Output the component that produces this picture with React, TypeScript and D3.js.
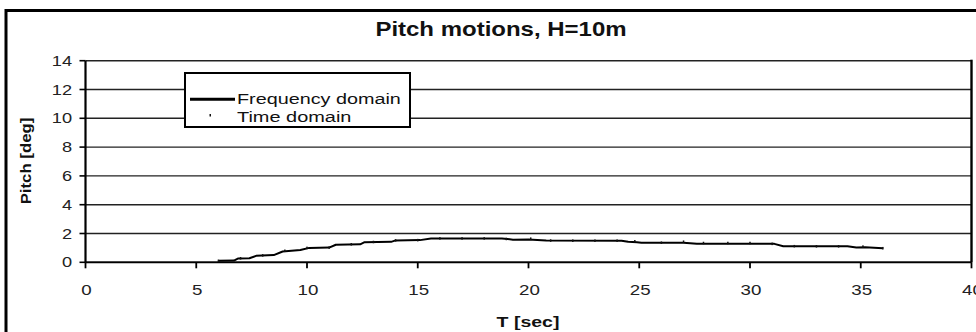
import React from "react";
import * as d3 from "d3";

// Pitch response vs wave period, H = 10 m
const freqT = [6.0, 6.7, 6.9, 7.4, 7.7, 8.5, 8.9, 9.7, 10.1, 11.0, 11.3, 12.4, 12.6, 13.8, 14.0, 15.1, 15.6, 17.0, 18.8, 19.3, 20.0, 20.8, 24.2, 24.5, 24.9, 25.1, 27.0, 27.6, 31.1, 31.5, 34.4, 34.8, 35.2, 36.0];
const freqPitch = [0.1, 0.12, 0.27, 0.28, 0.45, 0.5, 0.75, 0.85, 1.0, 1.02, 1.22, 1.25, 1.4, 1.42, 1.52, 1.54, 1.65, 1.66, 1.66, 1.57, 1.58, 1.52, 1.5, 1.42, 1.4, 1.36, 1.36, 1.28, 1.28, 1.12, 1.11, 1.02, 1.04, 0.97];

const timeT = [6, 7, 8, 9, 10, 11, 12, 13, 14, 15, 16, 17, 18, 19, 20.1, 21, 22, 23, 24, 24.8, 26, 27, 27.9, 29, 30, 31, 32, 33, 34, 35.1, 36];
const timePitch = [0.1, 0.28, 0.48, 0.8, 1.0, 1.02, 1.25, 1.41, 1.52, 1.54, 1.66, 1.66, 1.66, 1.62, 1.64, 1.51, 1.5, 1.5, 1.5, 1.46, 1.36, 1.43, 1.34, 1.34, 1.34, 1.28, 1.12, 1.11, 1.11, 1.09, 0.98];

const xTicks = [0, 5, 10, 15, 20, 25, 30, 35, 40];
const yTicks = [0, 2, 4, 6, 8, 10, 12, 14];

const titleText = "Pitch motions, H=10m";
const xLabel = "T [sec]";
const yLabel = "Pitch [deg]";
const legendLabels = ["Frequency domain", "Time domain"];

const W = 976;
const H = 332;
const font = "'Liberation Sans', Arial, Helvetica, sans-serif";

export default function App() {
  const x = d3.scaleLinear().domain([0, 40]).range([85.5, 971.5]);
  const y = d3.scaleLinear().domain([0, 14]).range([262.3, 60.7]);

  const line = d3
    .line<number>()
    .x((_, i) => x(freqT[i]))
    .y((d) => y(d));

  const leg = { x: 185, y: 73, w: 225, h: 54 };

  return (
    <svg
      width={W}
      height={H}
      style={{ position: "absolute", left: 0, top: 0, background: "#fff" }}
      fontFamily={font}
    >
      <rect x={0} y={0} width={W} height={H} fill="#fff" />
      {/* outer chart frame */}
      <rect x={6} y={10.5} width={W + 20} height={H + 20} fill="none" stroke="#000" strokeWidth={3} />

      <text
        transform={`translate(501,36) scale(1.2,1)`}
        textAnchor="middle"
        fontSize={20}
        fontWeight="bold"
        fill="#111"
      >
        {titleText}
      </text>

      {/* horizontal gridlines */}
      {yTicks.map((t) => (
        <line key={`g${t}`} x1={x(0)} x2={x(40)} y1={y(t)} y2={y(t)} stroke="#222" strokeWidth={1.4} />
      ))}

      {/* axes */}
      <line x1={x(0)} x2={x(0)} y1={y(14)} y2={y(0)} stroke="#000" strokeWidth={2.2} />
      <line x1={x(40)} x2={x(40)} y1={y(14) - 1} y2={y(0)} stroke="#000" strokeWidth={2.4} />
      <line x1={x(0)} x2={x(40)} y1={y(0)} y2={y(0)} stroke="#000" strokeWidth={1.8} />

      {yTicks.map((t) => (
        <g key={`yt${t}`}>
          <line x1={x(0) - 6} x2={x(0)} y1={y(t)} y2={y(t)} stroke="#000" strokeWidth={1.6} />
          <text
            transform={`translate(72,${y(t) + 5}) scale(1.3,1)`}
            textAnchor="end"
            fontSize={14}
            fill="#222"
          >
            {t}
          </text>
        </g>
      ))}

      {xTicks.map((t) => (
        <g key={`xt${t}`}>
          <line x1={x(t)} x2={x(t)} y1={y(0)} y2={y(0) + 6} stroke="#000" strokeWidth={1.8} />
          <text
            transform={`translate(${x(t) + 1},295) scale(1.25,1)`}
            textAnchor="middle"
            fontSize={15}
            fill="#222"
          >
            {t}
          </text>
        </g>
      ))}

      <text
        transform={`translate(528,327) scale(1.3,1)`}
        textAnchor="middle"
        fontSize={15}
        fontWeight="bold"
        fill="#111"
      >
        {xLabel}
      </text>
      <text
        transform={`translate(31,161) rotate(-90) scale(1.2,1)`}
        textAnchor="middle"
        fontSize={14}
        fontWeight="bold"
        fill="#111"
      >
        {yLabel}
      </text>

      {/* frequency domain response */}
      <path d={line(freqPitch) ?? ""} fill="none" stroke="#000" strokeWidth={2} strokeLinejoin="round" />

      {/* time domain samples */}
      {timePitch.map((v, i) => (
        <rect
          key={`td${i}`}
          x={x(timeT[i]) - 0.75}
          y={y(v) - 1.25}
          width={1.5}
          height={2.5}
          fill="#111"
        />
      ))}

      {/* legend */}
      <rect x={leg.x} y={leg.y} width={leg.w} height={leg.h} fill="#fff" stroke="#000" strokeWidth={2} />
      <line x1={190} x2={235} y1={99.3} y2={99.3} stroke="#000" strokeWidth={3} />
      <text transform={`translate(237,104) scale(1.32,1)`} fontSize={15} fill="#111">
        {legendLabels[0]}
      </text>
      <rect x={209.5} y={114} width={1.5} height={2.5} fill="#111" />
      <text transform={`translate(237,122) scale(1.33,1)`} fontSize={15} fill="#111">
        {legendLabels[1]}
      </text>
    </svg>
  );
}
